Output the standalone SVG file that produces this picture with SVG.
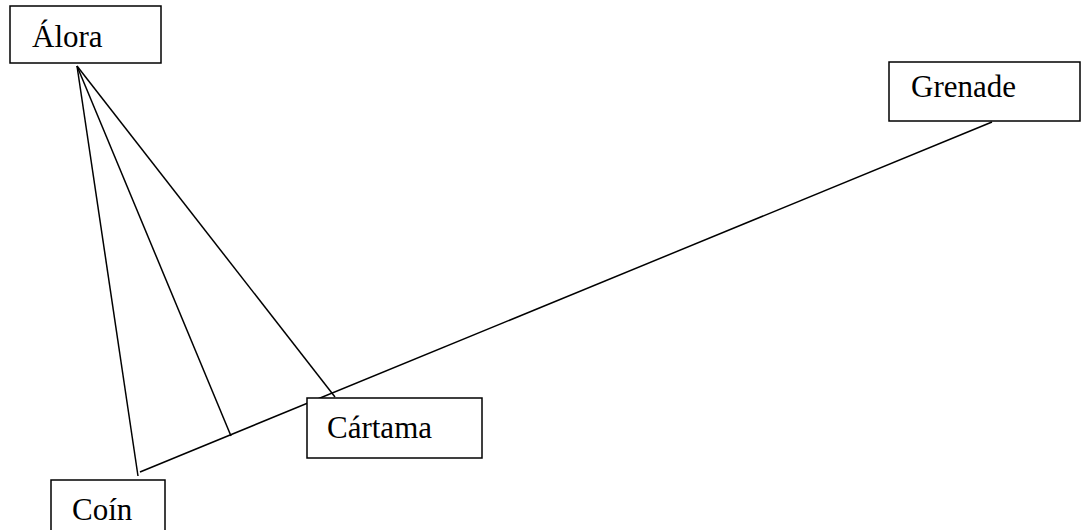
<svg xmlns="http://www.w3.org/2000/svg" width="1081" height="530" viewBox="0 0 1081 530">
<style>
.box{fill:#fff;stroke:#000;stroke-width:1.5}
.lbl{font-family:"Liberation Serif","Times New Roman",serif;font-size:31px;fill:#000}
.edge{stroke:#000;stroke-width:1.5;fill:none}
</style>
<rect width="1081" height="530" fill="#fff"/>
<g id="connectors">
<line class="edge" x1="77" y1="66" x2="138" y2="476"/>
<line class="edge" x1="77" y1="66" x2="231" y2="436"/>
<line class="edge" x1="77" y1="66" x2="335" y2="397"/>
<line class="edge" x1="140" y1="472" x2="992" y2="122"/>
</g>
<g id="alora"><rect class="box" x="10" y="6" width="151" height="57"/><text class="lbl" x="32" y="47">Álora</text></g>
<g id="grenade"><rect class="box" x="889" y="62" width="191" height="59"/><text class="lbl" x="911" y="97">Grenade</text></g>
<g id="cartama"><rect class="box" x="307" y="398" width="175" height="60"/><text class="lbl" x="327" y="438">Cártama</text></g>
<g id="coin"><rect class="box" x="51" y="480" width="114" height="60"/><text class="lbl" x="72" y="520">Coín</text></g>
</svg>
